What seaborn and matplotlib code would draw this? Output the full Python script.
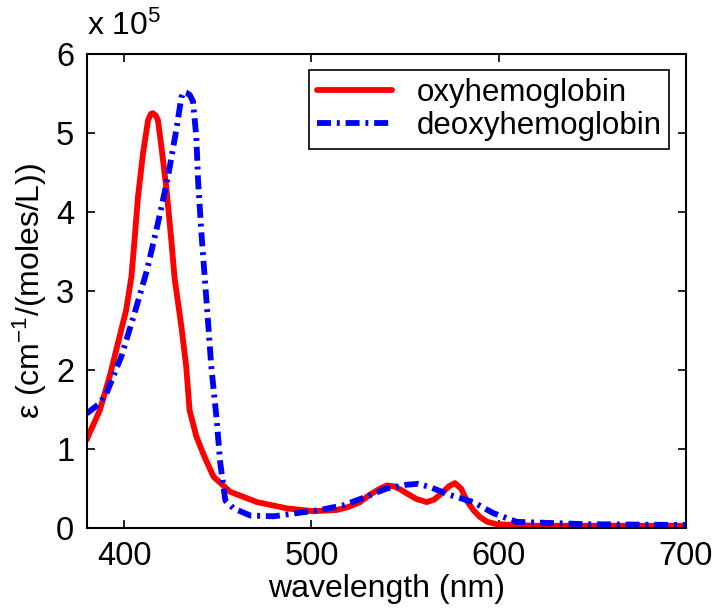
import numpy as np
import pandas as pd
import matplotlib
matplotlib.use("Agg")
import matplotlib.pyplot as plt
import seaborn as sns

# values in units of 1e5 cm^-1/(moles/L)
oxy_wl = [380, 380.6, 386.9, 392.2, 396.6, 401, 403.8, 405.5, 407.3, 410, 412.7, 414.2, 415.3,
          416.8, 418, 419.8, 422.4, 425.1, 426.9, 430.5, 433.1, 434.9, 438.5, 442.9, 447.7, 456.6,
          470.9, 486.9, 501, 513.6, 520, 526, 531, 536.7, 540.3, 544, 547.5, 551, 556, 561.6, 565.5,
          569.6, 573.5, 576.7, 580, 583, 586.5, 590.1, 594, 599, 620, 650, 700]
oxy_val = [1.12, 1.16, 1.49, 1.92, 2.34, 2.76, 3.18, 3.65, 4.19, 4.74, 5.16, 5.24, 5.25,
           5.22, 5.16, 4.83, 4.32, 3.65, 3.16, 2.55, 2.04, 1.49, 1.16, 0.90, 0.65, 0.46,
           0.33, 0.25, 0.215, 0.23, 0.27, 0.33, 0.42, 0.50, 0.54, 0.53, 0.49, 0.44, 0.37, 0.33, 0.36,
           0.44, 0.53, 0.57, 0.50, 0.35, 0.23, 0.14, 0.08, 0.05, 0.03, 0.03, 0.03]

deoxy_wl = [380, 386.9, 390.4, 398.4, 405.5, 412.2, 418, 423.4, 427.8, 430.5, 431.8, 433.1,
            435, 436.7, 438.5, 439.4, 441.1, 442.9, 444.7, 446.5, 449.3, 451.3, 454, 458.4,
            467.3, 479.7, 492.2, 504.7, 517.1, 528.5, 540, 551, 557, 563.4, 574, 586.5, 597.2,
            609.7, 622, 647, 700]
deoxy_val = [1.45, 1.58, 1.70, 2.17, 2.72, 3.27, 3.86, 4.45, 5.04, 5.45, 5.52, 5.51,
             5.48, 5.40, 4.95, 4.41, 3.77, 3.20, 2.63, 2.04, 1.39, 0.82, 0.35, 0.25,
             0.16, 0.15, 0.19, 0.23, 0.29, 0.39, 0.50, 0.55, 0.56, 0.52, 0.42, 0.33, 0.19,
             0.08, 0.07, 0.05, 0.04]

names = ["oxyhemoglobin", "deoxyhemoglobin"]
x_ticks = [400, 500, 600, 700]
y_ticks = [0, 1, 2, 3, 4, 5, 6]

df = pd.concat([
    pd.DataFrame({"wl": oxy_wl, "eps": oxy_val, "species": names[0]}),
    pd.DataFrame({"wl": deoxy_wl, "eps": deoxy_val, "species": names[1]}),
])

sns.set_style("ticks")
plt.rcParams["font.family"] = ["Liberation Sans", "DejaVu Sans"]
plt.rcParams["mathtext.fontset"] = "custom"
plt.rcParams["mathtext.rm"] = "Liberation Sans"
plt.rcParams["mathtext.it"] = "Liberation Sans"
plt.rcParams["text.color"] = "black"
plt.rcParams["axes.labelcolor"] = "black"
plt.rcParams["lines.solid_joinstyle"] = "round"
plt.rcParams["lines.dash_joinstyle"] = "round"

fig = plt.figure(figsize=(7.12, 6.12), dpi=100)
ax = fig.add_axes([0.122, 0.137, 0.841, 0.775])

sns.lineplot(data=df, x="wl", y="eps", hue="species", style="species",
             palette={names[0]: "#ff0000", names[1]: "#0000ff"},
             dashes={names[0]: "", names[1]: (2.4, 1.0, 0.5, 1.0)},
             linewidth=4.2, ax=ax, sort=False, estimator=None)

ax.set_xlim(380, 700)
ax.set_ylim(0, 6)
ax.set_xticks(x_ticks)
ax.set_yticks(y_ticks)
ax.tick_params(direction="in", length=6, width=1.2, top=True, right=True,
               labelsize=23.5, pad=9, colors="black")
for s in ax.spines.values():
    s.set_linewidth(1.5)
    s.set_visible(True)
    s.set_color("black")
ax.set_xlabel("wavelength (nm)", fontsize=23, labelpad=2)
ax.set_ylabel(r"ε (cm$^{-1}$/(moles/L))", fontsize=23, labelpad=5)
ax.text(0.0, 1.025, r"x 10$^5$", transform=ax.transAxes, fontsize=23, ha="left", va="bottom")

leg = ax.legend(loc="upper right", bbox_to_anchor=(0.973, 0.965), fontsize=22.5,
                frameon=True, fancybox=False, edgecolor="black", framealpha=1,
                handlelength=2.4, borderpad=0.25, labelspacing=0.1, handletextpad=0.8,
                borderaxespad=0.0)
leg.get_frame().set_linewidth(1.2)
for h in leg.get_lines():
    h.set_linewidth(4.2)

fig.savefig("out.png", dpi=100)
